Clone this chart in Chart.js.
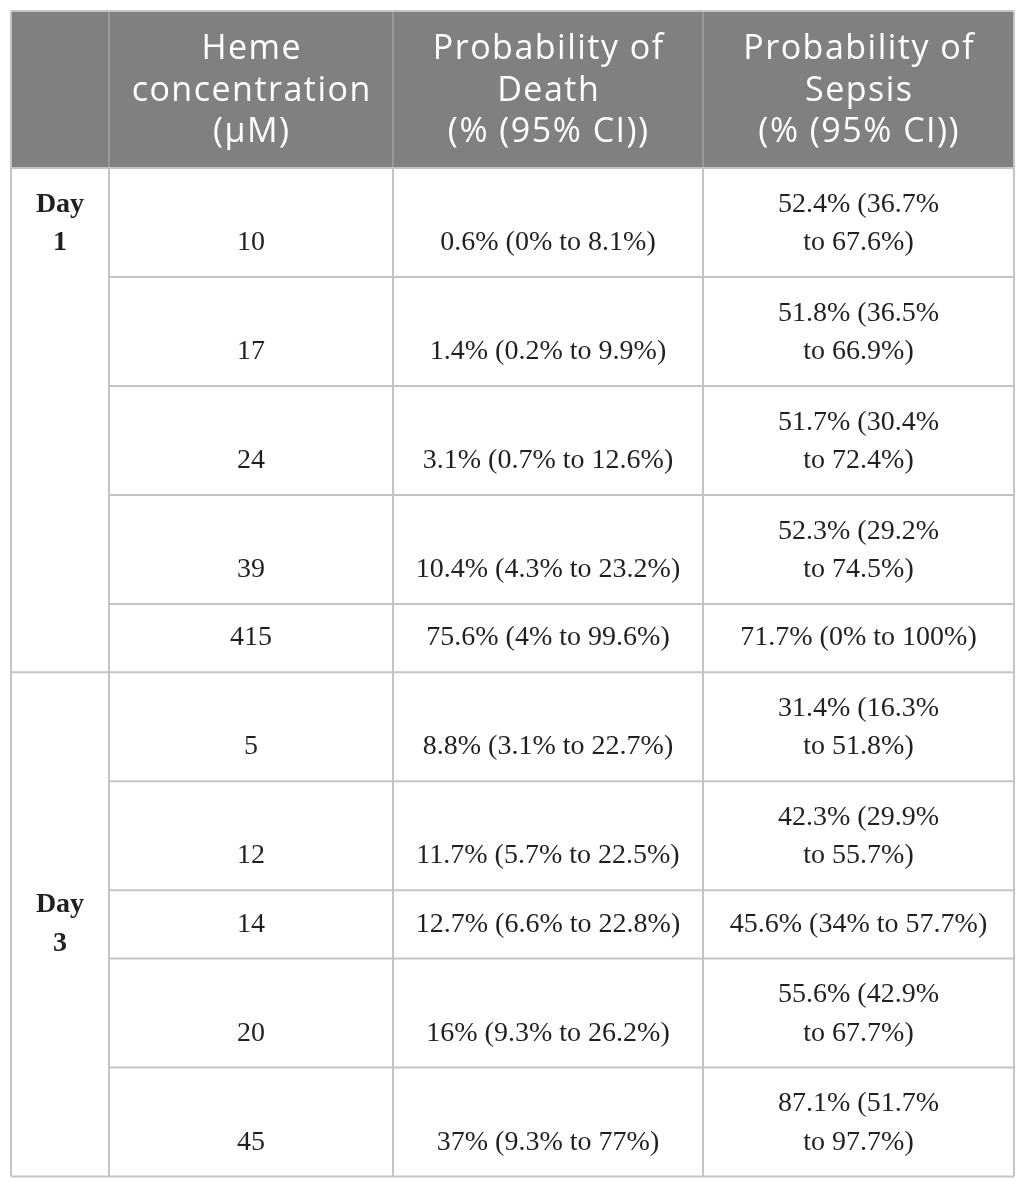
<!DOCTYPE html>
<html>
<head>
<meta charset="utf-8">
<script src="https://cdn.jsdelivr.net/npm/chart.js@4.4.1/dist/chart.umd.min.js"></script>
<style>
  html, body { margin: 0; padding: 0; background: #ffffff; }
  canvas { display: block; }
</style>
</head>
<body>
<canvas id="chart_hemeTable" width="1025" height="1188"></canvas>
<script>
// table content
const headerLines = [
    [],
    ['Heme', 'concentration', '(µM)'],
    ['Probability of', 'Death', '(% (95% CI))'],
    ['Probability of', 'Sepsis', '(% (95% CI))']
];
const dayLabels = ['Day 1', 'Day 3'];
const dayRows = [5, 5];
const dayAlign = ['first', 'middle'];
const hemeConc = [10, 17, 24, 39, 415, 5, 12, 14, 20, 45];
const deathPct = [0.6, 1.4, 3.1, 10.4, 75.6, 8.8, 11.7, 12.7, 16, 37];
const deathLo = [0, 0.2, 0.7, 4.3, 4, 3.1, 5.7, 6.6, 9.3, 9.3];
const deathHi = [8.1, 9.9, 12.6, 23.2, 99.6, 22.7, 22.5, 22.8, 26.2, 77];
const sepsisPct = [52.4, 51.8, 51.7, 52.3, 71.7, 31.4, 42.3, 45.6, 55.6, 87.1];
const sepsisLo = [36.7, 36.5, 30.4, 29.2, 0, 16.3, 29.9, 34, 42.9, 51.7];
const sepsisHi = [67.6, 66.9, 72.4, 74.5, 100, 51.8, 55.7, 57.7, 67.7, 97.7];

// layout (table units = px)
const colWidths = [98, 284, 310, 311];
const headerHeight = 157;
const rowPad = 27.5, rowLine = 40.75, textLine = 38.5, cellPadX = 20;
const bodyFont = '28px "Liberation Serif", "Times New Roman", serif';
const dayFont = 'bold 28px "Liberation Serif", "Times New Roman", serif';
const headFont = '34px "Open Sans", sans-serif';
const headSpacing = 1.5;

const colEdges = [0];
colWidths.forEach(w => colEdges.push(colEdges[colEdges.length - 1] + w));

function ciLines(p, lo, hi) {
    return [p + '% (' + lo + '%', 'to ' + hi + '%)'];
}

// wrap where needed, measured with the body font
const measureCtx = document.createElement('canvas').getContext('2d');
measureCtx.font = bodyFont;
function fitLines(parts, col) {
    const full = parts.join(' ');
    const maxW = colWidths[col] - 2 * cellPadX;
    return measureCtx.measureText(full).width <= maxW ? [full] : parts;
}

const rows = hemeConc.map((h, i) => ({
    cells: [
        [String(h)],
        fitLines(ciLines(deathPct[i], deathLo[i], deathHi[i]), 2),
        fitLines(ciLines(sepsisPct[i], sepsisLo[i], sepsisHi[i]), 3)
    ]
}));
const rowTops = [];
let yCursor = headerHeight;
rows.forEach(r => {
    r.lines = Math.max(...r.cells.map(c => c.length));
    r.height = rowPad + rowLine * r.lines;
    rowTops.push(yCursor);
    yCursor += r.height;
});
const tableHeight = yCursor;
const tableWidth = colEdges[colEdges.length - 1];

const tablePlugin = {
    id: 'tablePlugin',
    afterDraw(chart) {
        const ctx = chart.ctx;
        const xs = chart.scales.x, ys = chart.scales.y;
        const px = v => xs.getPixelForValue(v);
        const py = v => ys.getPixelForValue(v);
        ctx.save();

        // header band
        ctx.fillStyle = '#808080';
        ctx.fillRect(px(0), py(0), px(tableWidth) - px(0), py(headerHeight) - py(0));
        ctx.strokeStyle = '#a3a3a3';
        ctx.lineWidth = 1.5;
        for (let c = 1; c < colEdges.length - 1; c++) {
            ctx.beginPath();
            ctx.moveTo(px(colEdges[c]), py(0));
            ctx.lineTo(px(colEdges[c]), py(headerHeight));
            ctx.stroke();
        }
        ctx.fillStyle = '#ffffff';
        ctx.font = headFont;
        ctx.letterSpacing = headSpacing + 'px';
        ctx.textAlign = 'center';
        ctx.textBaseline = 'middle';
        headerLines.forEach((lines, c) => {
            const cx = px((colEdges[c] + colEdges[c + 1]) / 2) + headSpacing / 2;
            const cy = py(headerHeight / 2 + 1.5);
            lines.forEach((t, k) => {
                ctx.fillText(t, cx, cy + (k - (lines.length - 1) / 2) * 41.5);
            });
        });
        ctx.letterSpacing = '0px';

        // grid
        ctx.strokeStyle = '#c4c4c4';
        ctx.lineWidth = 2;
        const hline = (y, x0, x1) => {
            ctx.beginPath();
            ctx.moveTo(px(x0), py(y));
            ctx.lineTo(px(x1), py(y));
            ctx.stroke();
        };
        const vline = (x, y0, y1) => {
            ctx.beginPath();
            ctx.moveTo(px(x), py(y0));
            ctx.lineTo(px(x), py(y1));
            ctx.stroke();
        };
        hline(0, 0, tableWidth);
        hline(tableHeight, 0, tableWidth);
        vline(0, 0, tableHeight);
        vline(tableWidth, 0, tableHeight);
        for (let c = 1; c < colEdges.length - 1; c++) vline(colEdges[c], headerHeight, tableHeight);
        let groupStart = 0;
        dayRows.forEach(n => {
            hline(rowTops[groupStart], 0, tableWidth);
            for (let r = groupStart + 1; r < groupStart + n; r++) hline(rowTops[r], colEdges[1], tableWidth);
            groupStart += n;
        });

        // body text
        ctx.fillStyle = '#231f20';
        ctx.font = bodyFont;
        rows.forEach((r, i) => {
            const bottom = rowTops[i] + r.height;
            r.cells.forEach((lines, k) => {
                const cx = px((colEdges[k + 1] + colEdges[k + 2]) / 2);
                lines.forEach((t, j) => {
                    const yv = bottom - r.height / 2 + (rowLine * (r.lines - 1)) / 2 - (lines.length - 1 - j) * textLine;
                    ctx.fillText(t, cx, py(yv));
                });
            });
        });

        // day labels
        ctx.font = dayFont;
        groupStart = 0;
        dayLabels.forEach((label, g) => {
            const parts = label.split(' ');
            const n = dayRows[g];
            const cx = px(colEdges[0] + colWidths[0] / 2);
            let lastY;
            if (dayAlign[g] === 'first') {
                const r = rows[groupStart];
                lastY = rowTops[groupStart] + r.height / 2 + (rowLine * (r.lines - 1)) / 2;
            } else {
                const top = rowTops[groupStart];
                const end = rowTops[groupStart + n - 1] + rows[groupStart + n - 1].height;
                lastY = (top + end) / 2 + (parts.length - 1) * textLine / 2;
            }
            parts.forEach((t, j) => {
                ctx.fillText(t, cx, py(lastY - (parts.length - 1 - j) * textLine));
            });
            groupStart += n;
        });
        ctx.restore();
    }
};

let ctxHemeTable = document.getElementById('chart_hemeTable').getContext('2d');
let chartHemeTable = new Chart(ctxHemeTable, {
    type: 'scatter',
    data: { datasets: [] },
    options: {
        responsive: false,
        animation: false,
        layout: { padding: { left: 11, top: 11, right: 11, bottom: 1188 - 11 - tableHeight } },
        plugins: { legend: { display: false }, tooltip: { enabled: false } },
        scales: {
            x: { type: 'linear', display: false, min: 0, max: tableWidth },
            y: { type: 'linear', display: false, min: 0, max: tableHeight, reverse: true }
        }
    },
    plugins: [tablePlugin]
});
</script>
</body>
</html>
